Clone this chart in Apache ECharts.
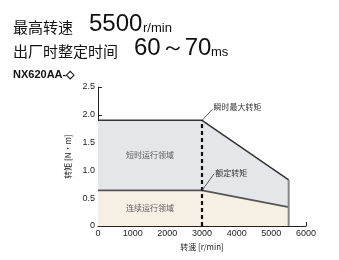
<!DOCTYPE html>
<html><head><meta charset="utf-8">
<script src="https://cdn.jsdelivr.net/npm/echarts@6/dist/echarts.min.js"></script>
<style>html,body{margin:0;padding:0;background:#fff}#c{width:339px;height:260px}</style>
</head><body><div id="c"></div>
<script>
const speedTicks = [0, 1000, 2000, 3000, 4000, 5000, 6000];
const torqueTicks = [0, 0.5, 1.0, 1.5, 2.0, 2.5];
const maxSpeeds = [0, 3000, 5500];
const maxTorque = [1.9, 1.9, 0.83];
const ratedSpeeds = [0, 3000, 5500];
const ratedTorque = [0.64, 0.64, 0.34];
const ratedSpeed = 3000;
const labels = {short: '短时运行领域', cont: '连续运行领域', max: '瞬时最大转矩', rated: '额定转矩'};

const chart = echarts.init(document.getElementById('c'));
const font = '"Liberation Sans", Arial, sans-serif';
const cjk = '"Noto Sans CJK SC", sans-serif';
const maxData = maxSpeeds.map((s, i) => [s, maxTorque[i]]);
const ratedData = ratedSpeeds.map((s, i) => [s, ratedTorque[i]]);
const lastMax = maxData[maxData.length - 1];

function txt(left, top, text, size, fam, weight) {
  return {type: 'text', left: left, top: top, style: {text: text, fontFamily: fam, fontSize: size, fontWeight: weight || 'normal', fill: '#111'}};
}

chart.setOption({
  animation: false,
  grid: {left: 98, right: 33, top: 87, bottom: 34},
  xAxis: {
    type: 'value', min: speedTicks[0], max: speedTicks[speedTicks.length - 1], interval: 1000,
    name: '转速 [r/min]', nameLocation: 'middle', nameGap: 15,
    nameTextStyle: {fontFamily: cjk, fontSize: 8, color: '#222'},
    axisLine: {lineStyle: {color: '#222', width: 1}},
    axisTick: {inside: true, length: 4, lineStyle: {color: '#222'}},
    axisLabel: {fontFamily: font, fontSize: 9, color: '#222', margin: 3, formatter: v => String(v)},
    splitLine: {show: false}
  },
  yAxis: {
    type: 'value', min: torqueTicks[0], max: torqueTicks[torqueTicks.length - 1], interval: 0.5,
    name: '转矩 [N·m]', nameLocation: 'middle', nameGap: 22, nameRotate: 90,
    nameTextStyle: {fontFamily: cjk, fontSize: 8, color: '#222'},
    axisLine: {show: true, lineStyle: {color: '#222', width: 1}},
    axisTick: {show: true, inside: true, length: 4, lineStyle: {color: '#222'}},
    axisLabel: {fontFamily: font, fontSize: 9, color: '#222', margin: 3,
      formatter: v => v === 0 ? '0' : v.toFixed(1)},
    splitLine: {show: false}
  },
  series: [
    {type: 'line', data: maxData, symbol: 'none', z: 2,
      lineStyle: {color: '#333', width: 1.5},
      areaStyle: {color: '#e5e6e9', opacity: 1}},
    {type: 'line', data: ratedData, symbol: 'none', z: 3,
      lineStyle: {color: '#555', width: 1.8},
      areaStyle: {color: '#f6efe3', opacity: 1}},
    {type: 'line', data: [[lastMax[0], 0], lastMax], symbol: 'none', z: 4,
      lineStyle: {color: '#888', width: 2}},
    {type: 'line', data: [[ratedSpeed, 0], [ratedSpeed, maxTorque[1]]], symbol: 'none', z: 5,
      lineStyle: {color: '#111', width: 2.2, type: [4, 3]}},
    {type: 'line', data: [[ratedSpeed, maxTorque[1]], [3300, 2.1]], symbol: 'none', z: 5,
      lineStyle: {color: '#333', width: 0.8},
      endLabel: {show: true, formatter: labels.max, fontFamily: cjk, fontSize: 8, color: '#333', distance: 1, offset: [0, -2]}},
    {type: 'line', data: [[ratedSpeed, ratedTorque[1]], [3350, 0.94]], symbol: 'none', z: 5,
      lineStyle: {color: '#333', width: 0.8},
      endLabel: {show: true, formatter: labels.rated, fontFamily: cjk, fontSize: 8, color: '#333', distance: 1, offset: [0, -1]}},
    {type: 'scatter', symbolSize: 0, z: 6, silent: true,
      data: [{value: [1500, 1.27], label: {formatter: labels.short}}, {value: [1500, 0.32], label: {formatter: labels.cont}}],
      label: {show: true, position: 'inside', fontFamily: cjk, fontSize: 8, color: '#333'}}
  ],
  graphic: [
    txt(13, 20, '最高转速', 15, cjk),
    txt(89, 12, '5500', 24, font),
    txt(143, 22, 'r/min', 13, font),
    txt(13, 44, '出厂时整定时间', 15, cjk),
    txt(134, 36, '60～70', 24, font),
    txt(211, 46, 'ms', 13, font),
    txt(13, 69, 'NX620AA-◇', 11, font, 'bold')
  ]
});
</script></body></html>
